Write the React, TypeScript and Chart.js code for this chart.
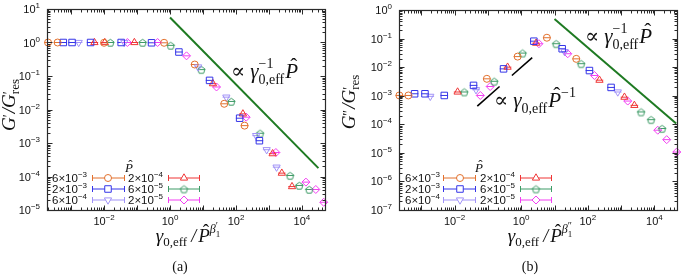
import React, { useEffect, useRef } from "react";
import { Chart, registerables } from "chart.js";
import { drawPoint } from "chart.js/helpers";
Chart.register(...registerables);

const SERIF = '"Liberation Serif", "DejaVu Serif", serif';
const SANS = '"Liberation Sans", "DejaVu Sans", sans-serif';

// ---- series (legend order) ----
const P_MANT = ["6", "2", "6", "2", "6", "2"];
const P_EXP = ["−3", "−3", "−4", "−4", "−5", "−5"];
const COLORS = ["#e2712e", "#3535e8", "#a193f7", "#ef3535", "#3d9b66", "#f23ff2"];
const SHAPES = ["circle", "rect", "triangleDown", "triangle", "pentagon", "rectRot"];

// ---- panel (a): G'/G'res vs gamma/P^beta ----
const A_O = [[2.0e-4, 1.0], [3.9e-4, 1.0], [1.0e-2, 0.98], [0.66, 0.98], [5.6, 0.22], [44, 0.0148], [182, 3.3e-3]];
const A_S = [[5.8e-4, 1.0], [1.07e-3, 1.0], [3.9e-3, 1.0], [0.033, 1.0], [0.275, 0.98], [1.86, 0.52], [15.8, 0.074], [129, 5.5e-3], [513, 1.17e-3]];
const A_V = [[1.7e-3, 1.0], [0.041, 1.0], [7.1, 0.186], [51, 0.0234], [407, 1.66e-3], [851, 6.3e-4], [1700, 1.9e-4]];
const A_T = [[5.1e-3, 1.0], [0.0105, 1.0], [0.083, 1.0], [20, 0.059], [162, 7.4e-3], [1290, 4.8e-4], [2450, 1.26e-4], [5000, 5.0e-5]];
const A_P = [[0.0155, 1.0], [0.148, 1.0], [1.05, 0.82], [8.9, 0.155], [72, 0.0174], [537, 1.95e-3], [4370, 1.07e-4], [8300, 5.4e-5], [16600, 4.1e-5]];
const A_D = [[0.051, 1.0], [0.42, 1.0], [3.16, 0.4], [25.7, 0.047], [204, 5.9e-3], [1620, 5.2e-4], [13200, 6.8e-5], [26300, 4.1e-5], [45700, 1.7e-5]];
const A_SLOPE = [[1, 5.6], [31600, 1.78e-4]];

// ---- panel (b): G''/G'res ----
const B_O = [[2.2e-4, 1.02e-3], [4.1e-4, 1.02e-3], [0.093, 3.9e-3], [0.78, 0.0234], [5.9, 0.107], [45, 0.0195]];
const B_S = [[6.3e-4, 1.17e-3], [1.29e-3, 1.17e-3], [4.9e-3, 1.02e-3], [0.037, 2.3e-3], [0.295, 8.7e-3], [2.4, 0.081], [17, 0.044], [112, 7.6e-3], [500, 1.95e-3]];
const B_V = [[1.86e-3, 9.5e-4], [0.044, 1.62e-3], [20, 0.035], [794, 1.35e-3]];
const B_T = [[0.0123, 1.35e-3], [0.39, 0.01], [2.8, 0.069], [224, 3.5e-3], [1260, 8.9e-4], [2500, 4.6e-4]];
const B_P = [[0.0195, 1.35e-3], [0.155, 3.2e-3], [1.1, 0.031], [11.2, 0.066], [63, 0.0132], [3980, 2.7e-4], [7940, 1.45e-4], [17000, 7.1e-5]];
const B_D = [[0.059, 1.02e-3], [0.117, 2.1e-3], [3.4, 0.066], [25, 0.0295], [158, 5.1e-3], [1580, 6.5e-4], [12600, 6.2e-5], [23400, 2.9e-5], [46800, 1.07e-5]];
const B_SLOPE = [[10, 0.48], [45000, 1.07e-4]];
const B_GUIDE1 = [[0.048, 4.3e-4], [0.224, 2.1e-3]];
const B_GUIDE2 = [[0.525, 5.1e-3], [2.14, 0.0214]];

// ---- ticks ----
const X_TICKS = [1e-2, 1, 1e2, 1e4];
const X_TICK_EXP = ["−2", "0", "2", "4"];
const A_Y_TICKS = [10, 1, 0.1, 1e-2, 1e-3, 1e-4, 1e-5];
const A_Y_EXP = ["1", "0", "−1", "−2", "−3", "−4", "−5"];
const B_Y_TICKS = [1, 0.1, 1e-2, 1e-3, 1e-4, 1e-5, 1e-6, 1e-7];
const B_Y_EXP = ["0", "−1", "−2", "−3", "−4", "−5", "−6", "−7"];

const ERR_FACTOR = 1.3;

type Seg = { t: string; size: number; it?: boolean; dy?: number; stack?: boolean; hat?: boolean; fam?: string; gap?: number };

function layoutRich(ctx: CanvasRenderingContext2D, segs: Seg[]) {
  let maxX = 0;
  let prevStart = 0;
  const items: any[] = [];
  for (const s of segs) {
    const font = `${s.it ? "italic " : ""}${s.size}px ${s.fam || SERIF}`;
    ctx.font = font;
    const w = ctx.measureText(s.t).width;
    let sx: number;
    if (s.stack) sx = prevStart;
    else {
      sx = maxX + (s.gap || 0);
      prevStart = sx;
    }
    items.push({ ...s, x: sx, w, font });
    maxX = Math.max(maxX, sx + w);
  }
  return { items, width: maxX };
}

function drawRich(ctx: CanvasRenderingContext2D, segs: Seg[], x: number, y: number, align: string, color = "#111") {
  const L = layoutRich(ctx, segs);
  const x0 = align === "center" ? x - L.width / 2 : align === "right" ? x - L.width : x;
  ctx.fillStyle = color;
  ctx.textAlign = "left";
  ctx.textBaseline = "alphabetic";
  for (const it of L.items) {
    ctx.font = it.font;
    ctx.fillText(it.t, x0 + it.x, y + (it.dy || 0));
    if (it.hat) {
      ctx.font = `${it.size}px ${SERIF}`;
      const hw = ctx.measureText("ˆ").width;
      ctx.fillText("ˆ", x0 + it.x + it.w / 2 - hw / 2 + it.size * 0.1, y + (it.dy || 0) - it.size * 0.24);
    }
  }
}

function pentagonCanvas(color: string, r: number) {
  const size = Math.ceil(r * 2 + 3);
  const c = document.createElement("canvas");
  c.width = size;
  c.height = size;
  const g = c.getContext("2d")!;
  g.strokeStyle = color;
  g.lineWidth = 1;
  g.beginPath();
  for (let i = 0; i < 5; i++) {
    const a = -Math.PI / 2 + (i * 2 * Math.PI) / 5;
    const px = size / 2 + r * Math.cos(a);
    const py = size / 2 + r * Math.sin(a) + 0.6;
    if (i) g.lineTo(px, py);
    else g.moveTo(px, py);
  }
  g.closePath();
  g.stroke();
  return c;
}

function markerOpts(i: number) {
  const shape = SHAPES[i];
  if (shape === "pentagon") return { pointStyle: pentagonCanvas(COLORS[i], 3.8) as any, rotation: 0, radius: 3.8 };
  if (shape === "triangleDown") return { pointStyle: "triangle", rotation: 180, radius: 4.2 };
  if (shape === "triangle") return { pointStyle: "triangle", rotation: 0, radius: 4.2 };
  if (shape === "rect") return { pointStyle: "rect", rotation: 0, radius: 4.6 };
  if (shape === "rectRot") return { pointStyle: "rectRot", rotation: 0, radius: 4.0 };
  return { pointStyle: "circle", rotation: 0, radius: 3.5 };
}

const TICK_SEG = (e: string): Seg[] => [
  { t: "10", size: 11, fam: SANS },
  { t: e, size: 8, dy: -5, fam: SANS },
];

interface Spec {
  width: number;
  left: number;
  right: number;
  top: number;
  bottom: number;
  xmin: number;
  xmax: number;
  ymin: number;
  ymax: number;
  data: number[][][];
  lines: { pts: number[][]; color: string; width: number }[];
  yTicks: number[];
  yExp: string[];
  yTitle: { x: number; y: number; segs: Seg[] };
  xTitle: { x: number; y: number; segs: Seg[] };
  caption: { x: number; y: number; text: string };
  notes: { x: number; y: number; segs: Seg[] }[];
  legend: { tx: number; ty: number; text: number[]; bar: number[][]; mark: number[]; rows: number[] };
}

const NOTE_INV: Seg[] = [
  { t: "∝", size: 21 },
  { t: "γ", size: 21, it: true, gap: 5 },
  { t: "−1", size: 14, dy: -10 },
  { t: "0,eff", size: 14, dy: 6, stack: true },
  { t: "P", size: 21, it: true, hat: true, gap: 1 },
];
const NOTE_LIN: Seg[] = [
  { t: "∝", size: 21 },
  { t: "γ", size: 21, it: true, gap: 5 },
  { t: "0,eff", size: 14, dy: 6 },
  { t: "P", size: 21, it: true, hat: true, gap: 1 },
  { t: "−1", size: 14, dy: -10 },
];
const xTitleSegs = (prime: string): Seg[] => [
  { t: "γ", size: 19, it: true },
  { t: "0,eff", size: 13, dy: 4 },
  { t: "/", size: 18, it: true, gap: 4 },
  { t: "P", size: 19, it: true, hat: true, gap: 2 },
  { t: "β", size: 12, it: true, dy: -9 },
  { t: prime, size: 10, dy: -13 },
  { t: "1", size: 9, dy: -5, stack: true },
];
const yTitleSegs = (prime: string): Seg[] => [
  { t: "G", size: 19, it: true },
  { t: prime, size: 14, dy: -2 },
  { t: "/", size: 19, it: true, gap: 1 },
  { t: "G", size: 19, it: true },
  { t: "′", size: 14, dy: -2 },
  { t: "res", size: 13, dy: 4, stack: true },
];

const SPEC_A: Spec = {
  width: 340,
  left: 47,
  right: 325,
  top: 9,
  bottom: 210,
  xmin: 1.86e-4,
  xmax: 5.0e4,
  ymin: 1e-5,
  ymax: 10,
  data: [A_O, A_S, A_V, A_T, A_P, A_D],
  lines: [{ pts: A_SLOPE, color: "#1e7a22", width: 2 }],
  yTicks: A_Y_TICKS,
  yExp: A_Y_EXP,
  yTitle: { x: 15, y: 105, segs: yTitleSegs("′") },
  xTitle: { x: 188, y: 242, segs: xTitleSegs("′") },
  caption: { x: 180, y: 271, text: "(a)" },
  notes: [{ x: 231, y: 78, segs: NOTE_INV }],
  legend: { tx: 129, ty: 172, text: [52, 128], bar: [[92, 125], [168, 200]], mark: [108, 184], rows: [177.5, 188.5, 199.5] },
};

const SPEC_B: Spec = {
  width: 343,
  left: 59,
  right: 338,
  top: 10,
  bottom: 210,
  xmin: 2.14e-4,
  xmax: 4.9e4,
  ymin: 1e-7,
  ymax: 1,
  data: [B_O, B_S, B_V, B_T, B_P, B_D],
  lines: [
    { pts: B_SLOPE, color: "#1e7a22", width: 2 },
    { pts: B_GUIDE1, color: "#000", width: 1.6 },
    { pts: B_GUIDE2, color: "#000", width: 1.6 },
  ],
  yTicks: B_Y_TICKS,
  yExp: B_Y_EXP,
  yTitle: { x: 15, y: 102, segs: yTitleSegs("″") },
  xTitle: { x: 200, y: 242, segs: xTitleSegs("″") },
  caption: { x: 190, y: 271, text: "(b)" },
  notes: [
    { x: 245, y: 43, segs: NOTE_INV },
    { x: 154, y: 107, segs: NOTE_LIN },
  ],
  legend: { tx: 139, ty: 172, text: [65, 140], bar: [[103, 136], [180, 212]], mark: [120, 196], rows: [177.5, 188.5, 199.5] },
};

function decor(spec: Spec) {
  return {
    id: "decor",
    beforeDatasetsDraw(chart: any) {
      const ctx: CanvasRenderingContext2D = chart.ctx;
      const xs = chart.scales.x;
      const ys = chart.scales.y;
      ctx.save();
      ctx.lineWidth = 1;
      chart.data.datasets.forEach((ds: any) => {
        if (!ds.errBar) return;
        ctx.strokeStyle = ds.pointBorderColor;
        ds.data.forEach((p: any) => {
          const y = ys.getPixelForValue(p.y);
          ctx.beginPath();
          ctx.moveTo(xs.getPixelForValue(p.x / ERR_FACTOR), y);
          ctx.lineTo(xs.getPixelForValue(p.x * ERR_FACTOR), y);
          ctx.stroke();
        });
      });
      ctx.restore();
    },
    afterDraw(chart: any) {
      const ctx: CanvasRenderingContext2D = chart.ctx;
      const ca = chart.chartArea;
      const xs = chart.scales.x;
      const ys = chart.scales.y;
      ctx.save();
      // frame
      ctx.strokeStyle = "#2a2a2a";
      ctx.lineWidth = 1.2;
      const L = Math.round(ca.left) + 0.5,
        R = Math.round(ca.right) + 0.5,
        T = Math.round(ca.top) + 0.5,
        B = Math.round(ca.bottom) + 0.5;
      ctx.strokeRect(L, T, R - L, B - T);
      // log ticks
      ctx.lineWidth = 1;
      const logTicks = (min: number, max: number, fn: (v: number, major: boolean) => void) => {
        for (let d = Math.floor(Math.log10(min)); d <= Math.ceil(Math.log10(max)); d++) {
          for (let m = 1; m <= 9; m++) {
            const v = m * Math.pow(10, d);
            if (v >= min * 0.999 && v <= max * 1.001) fn(v, m === 1);
          }
        }
      };
      ctx.beginPath();
      logTicks(spec.xmin, spec.xmax, (v, major) => {
        const px = Math.round(xs.getPixelForValue(v)) + 0.5;
        const len = major ? 5 : 3;
        ctx.moveTo(px, B);
        ctx.lineTo(px, B - len);
        ctx.moveTo(px, T);
        ctx.lineTo(px, T + len);
      });
      logTicks(spec.ymin, spec.ymax, (v, major) => {
        const py = Math.round(ys.getPixelForValue(v)) + 0.5;
        const len = major ? 5 : 3;
        ctx.moveTo(L, py);
        ctx.lineTo(L + len, py);
        ctx.moveTo(R, py);
        ctx.lineTo(R - len, py);
      });
      ctx.stroke();
      // tick labels
      X_TICKS.forEach((v, i) => {
        drawRich(ctx, TICK_SEG(X_TICK_EXP[i]), xs.getPixelForValue(v), 225, "center");
      });
      spec.yTicks.forEach((v, i) => {
        drawRich(ctx, TICK_SEG(spec.yExp[i]), spec.left - 7, ys.getPixelForValue(v) + 4, "right");
      });
      // titles
      drawRich(ctx, spec.xTitle.segs, spec.xTitle.x, spec.xTitle.y, "center");
      ctx.save();
      ctx.translate(spec.yTitle.x, spec.yTitle.y);
      ctx.rotate(-Math.PI / 2);
      drawRich(ctx, spec.yTitle.segs, 0, 0, "center");
      ctx.restore();
      drawRich(ctx, [{ t: spec.caption.text, size: 14 }], spec.caption.x, spec.caption.y, "center");
      // annotations
      spec.notes.forEach((n) => drawRich(ctx, n.segs, n.x, n.y, "left"));
      // legend
      const lg = spec.legend;
      drawRich(ctx, [{ t: "P", size: 13, it: true, hat: true }], lg.tx, lg.ty, "center");
      for (let i = 0; i < 6; i++) {
        const col = i < 3 ? 0 : 1;
        const yc = lg.rows[i % 3];
        drawRich(
          ctx,
          [
            { t: P_MANT[i] + "×10", size: 11.5, fam: SANS },
            { t: P_EXP[i], size: 8, dy: -5, fam: SANS },
          ],
          lg.text[col],
          yc + 4,
          "left"
        );
        const [b0, b1] = lg.bar[col];
        ctx.strokeStyle = COLORS[i];
        ctx.lineWidth = 1;
        ctx.beginPath();
        ctx.moveTo(b0, yc + 0.5);
        ctx.lineTo(b1, yc + 0.5);
        ctx.moveTo(b0 + 0.5, yc - 2.5);
        ctx.lineTo(b0 + 0.5, yc + 3.5);
        ctx.moveTo(b1 - 0.5, yc - 2.5);
        ctx.lineTo(b1 - 0.5, yc + 3.5);
        ctx.stroke();
        const mo = markerOpts(i);
        ctx.fillStyle = "#ffffff";
        drawPoint(ctx, { pointStyle: mo.pointStyle, rotation: mo.rotation, radius: mo.radius, borderWidth: 1 } as any, lg.mark[col], yc + 0.5);
      }
      ctx.restore();
    },
  };
}

function buildChart(canvas: HTMLCanvasElement, spec: Spec) {
  const datasets: any[] = [];
  spec.lines.forEach((ln) => {
    datasets.push({
      type: "line",
      data: ln.pts.map(([x, y]) => ({ x, y })),
      borderColor: ln.color,
      borderWidth: ln.width,
      pointRadius: 0,
      fill: false,
      clip: false,
      order: 2,
    });
  });
  spec.data.forEach((pts, i) => {
    const mo = markerOpts(i);
    datasets.push({
      type: "scatter",
      data: pts.map(([x, y]) => ({ x, y })),
      pointStyle: mo.pointStyle,
      pointRotation: mo.rotation,
      pointRadius: mo.radius,
      pointBorderWidth: 1,
      pointBorderColor: COLORS[i],
      pointBackgroundColor: "rgba(255,255,255,0)",
      showLine: false,
      clip: false,
      errBar: true,
      order: 1,
    });
  });
  return new Chart(canvas, {
    type: "scatter",
    data: { datasets },
    options: {
      responsive: false,
      devicePixelRatio: 1,
      animation: false,
      events: [],
      layout: { padding: { left: 0, right: spec.width - spec.right, top: spec.top, bottom: 0 } },
      plugins: { legend: { display: false }, tooltip: { enabled: false } },
      scales: {
        x: {
          type: "logarithmic",
          position: "bottom",
          min: spec.xmin,
          max: spec.xmax,
          ticks: { display: false },
          grid: { display: false },
          border: { display: false },
          afterFit: (s: any) => {
            s.height = 277 - spec.bottom;
          },
        },
        y: {
          type: "logarithmic",
          position: "left",
          min: spec.ymin,
          max: spec.ymax,
          ticks: { display: false },
          grid: { display: false },
          border: { display: false },
          afterFit: (s: any) => {
            s.width = spec.left;
          },
        },
      },
    } as any,
    plugins: [decor(spec)],
  });
}

export default function App() {
  const refA = useRef<HTMLCanvasElement>(null);
  const refB = useRef<HTMLCanvasElement>(null);
  useEffect(() => {
    const ca = buildChart(refA.current!, SPEC_A);
    const cb = buildChart(refB.current!, SPEC_B);
    return () => {
      ca.destroy();
      cb.destroy();
    };
  }, []);
  return (
    <div style={{ position: "fixed", left: 0, top: 0, width: 683, height: 277, background: "#fff", display: "flex" }}>
      <canvas ref={refA} width={340} height={277} style={{ width: 340, height: 277, display: "block" }} />
      <canvas ref={refB} width={343} height={277} style={{ width: 343, height: 277, display: "block" }} />
    </div>
  );
}
